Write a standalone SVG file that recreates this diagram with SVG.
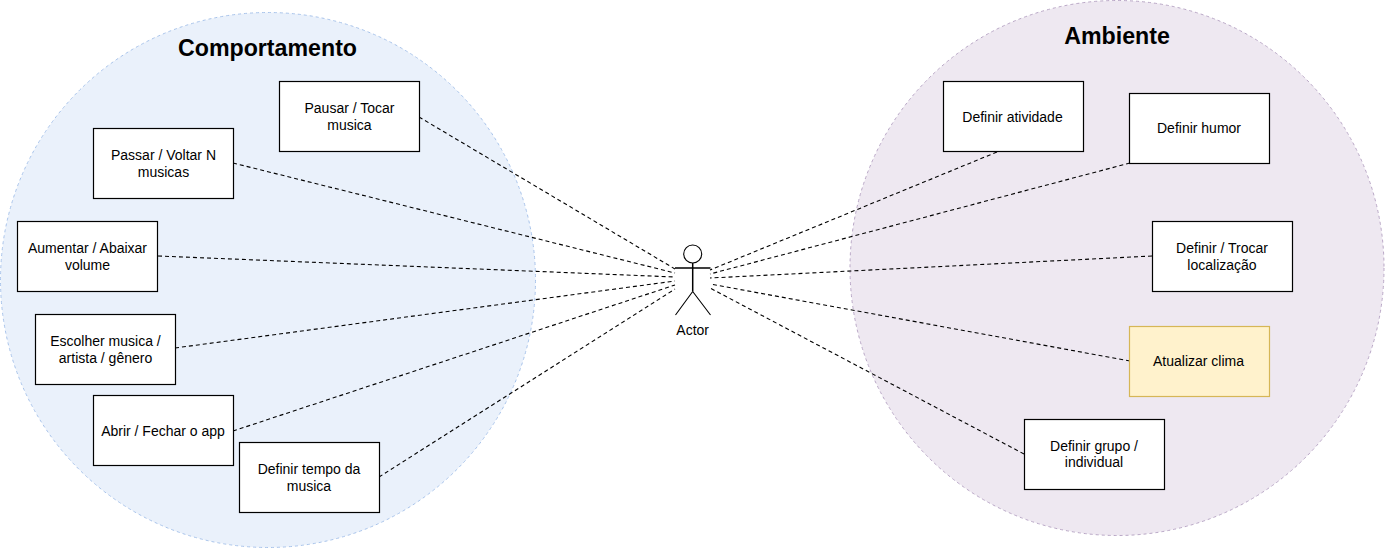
<svg xmlns="http://www.w3.org/2000/svg" width="1386" height="549" viewBox="0 0 1386 549">
<style>
.n{fill:#fff;stroke:#000;stroke-width:1.2}
.t{font-family:"Liberation Sans",Arial,sans-serif;font-size:14px;fill:#000;text-anchor:middle}
.c{stroke:#000;stroke-width:1.1;stroke-dasharray:4 3;fill:none}
.h{font-family:"Liberation Sans",Arial,sans-serif;font-size:23.2px;font-weight:bold;text-anchor:middle;fill:#000}
</style>
<rect width="1386" height="549" fill="#fff"/>
<g id="comportamento"><circle cx="268" cy="280" r="267.500" fill="#eaf1fb" stroke="#a9c4eb" stroke-dasharray="3 3"/><text class="h" x="267.500" y="55.500">Comportamento</text></g>
<g id="ambiente"><ellipse cx="1117" cy="268" rx="267" ry="267.500" fill="#eee8f1" stroke="#b9a7c6" stroke-dasharray="3 3"/><text class="h" x="1117" y="43.500">Ambiente</text></g>
<g id="connectors">
<path class="c" d="M419 117L675 269M233 163L675 273M158 256L675 277M175 348L675 281M233 431L675 285M379 477L675 289M997 152L710 270M1130 163L710 274M1152 256L710 278M1130 361L710 284M1024 454L710 288"/>
</g>
<g id="n1"><rect class="n" x="279.500" y="81.500" width="140" height="70"/><text class="t" x="349.500" y="113">Pausar / Tocar</text><text class="t" x="349.500" y="130">musica</text></g>
<g id="n2"><rect class="n" x="93.500" y="128.500" width="140" height="70"/><text class="t" x="163.500" y="160">Passar / Voltar N</text><text class="t" x="163.500" y="176.500">musicas</text></g>
<g id="n3"><rect class="n" x="17.500" y="221.500" width="140" height="70"/><text class="t" x="87.500" y="252.500">Aumentar / Abaixar</text><text class="t" x="87.500" y="269.500">volume</text></g>
<g id="n4"><rect class="n" x="35.500" y="314.500" width="140" height="70"/><text class="t" x="105.500" y="346">Escolher musica /</text><text class="t" x="105.500" y="362.500">artista / gênero</text></g>
<g id="n5"><rect class="n" x="93.500" y="395.500" width="140" height="70"/><text class="t" x="163" y="436">Abrir / Fechar o app</text></g>
<g id="n6"><rect class="n" x="239.500" y="442.500" width="140" height="70"/><text class="t" x="309" y="474">Definir tempo da</text><text class="t" x="309" y="490.500">musica</text></g>
<g id="n7"><rect class="n" x="943.500" y="81.500" width="140" height="70"/><text class="t" x="1012.500" y="122">Definir atividade</text></g>
<g id="n8"><rect class="n" x="1129.500" y="93.500" width="140" height="70"/><text class="t" x="1199" y="133">Definir humor</text></g>
<g id="n9"><rect class="n" x="1152.500" y="221.500" width="140" height="70"/><text class="t" x="1222" y="252.500">Definir / Trocar</text><text class="t" x="1222" y="269.500">localização</text></g>
<g id="n10"><rect x="1129.500" y="326.500" width="140" height="70" fill="#fff2cc" stroke="#d6b656" stroke-width="1.200"/><text class="t" x="1198.500" y="366">Atualizar clima</text></g>
<g id="n11"><rect class="n" x="1024.500" y="419.500" width="140" height="70"/><text class="t" x="1094" y="451">Definir grupo /</text><text class="t" x="1094" y="467">individual</text></g>
<g id="actor"><circle cx="692.700" cy="254" r="9" fill="#fff" stroke="#000" stroke-width="1.100"/><path d="M692.700 263V291.500M675 268H710.500" fill="none" stroke="#000" stroke-width="1.500"/><path d="M692.700 291.500L675.500 315M692.700 291.500L710.500 315" fill="none" stroke="#000" stroke-width="1.100"/><text class="t" x="692.700" y="335">Actor</text></g>
</svg>
